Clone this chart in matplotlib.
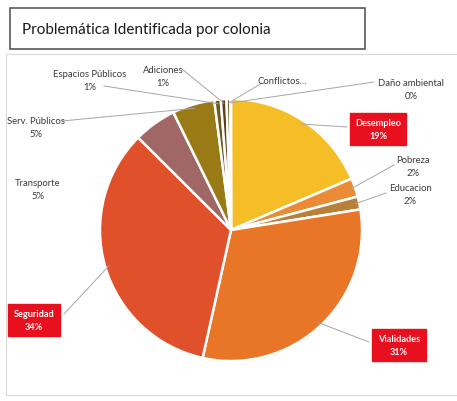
import numpy as np
import matplotlib.pyplot as plt
from matplotlib.patches import Rectangle

# data (clockwise from 12 o'clock)
categorias = ["Desempleo", "Pobreza", "Educacion", "Vialidades", "Seguridad",
              "Transporte", "Serv. Públicos", "Espacios Públicos", "Adiciones",
              "Conflictos...", "Daño ambiental"]
valores = [18.6, 2.3, 1.6, 31.0, 34.0, 5.3, 5.2, 0.8, 0.7, 0.5, 0.05]
etiquetas_pct = ["19%", "2%", "2%", "31%", "34%", "5%", "5%", "1%", "1%", "", "0%"]
colores = ["#F6BE26", "#EA8C35", "#B9803A", "#E97526", "#E0502B", "#A16666",
           "#9A7A15", "#6E5A1E", "#5C3F14", "#7A5A20", "#C0A060"]
resaltados = ["Desempleo", "Vialidades", "Seguridad"]

# label text centre and leader start (image pixel coords, y down)
pos_texto = {
    "Desempleo": (378, 130), "Pobreza": (413, 167), "Educacion": (410, 195),
    "Vialidades": (399, 346), "Seguridad": (34, 321), "Transporte": (38, 190),
    "Serv. Públicos": (36, 128), "Espacios Públicos": (90, 81),
    "Adiciones": (163, 77), "Conflictos...": (282, 81), "Daño ambiental": (411, 90),
}
inicio_linea = {
    "Desempleo": (347, 128), "Pobreza": (394, 166), "Educacion": (386, 194),
    "Vialidades": (369, 343), "Seguridad": (64, 315), "Serv. Públicos": (62, 122),
    "Espacios Públicos": (104, 87), "Adiciones": (182, 70), "Conflictos...": (262, 84),
    "Daño ambiental": (374, 83),
}

W, H = 457, 402
fig = plt.figure(figsize=(W / 100, H / 100), dpi=100)
ax = fig.add_axes([0, 0, 1, 1])

# chart frame and title box
ax.add_patch(Rectangle((6, 55), 460, 341, fill=False, edgecolor="#D9D9D9", lw=0.8))
ax.add_patch(Rectangle((10, 9), 355, 41, facecolor="white", edgecolor="#595959", lw=1.2))
ax.text(22, 30, "Problemática Identificada por colonia", fontsize=11,
        family="Lato", va="center", ha="left", color="#1A1A1A")

cx, cy, r = 231, 231, 131
# y axis is flipped, so counterclock in data = clockwise on screen, start at top
wedges, _ = ax.pie(valores, colors=colores, startangle=-90, counterclock=True,
                   center=(cx, cy), radius=r, frame=True,
                   wedgeprops=dict(edgecolor="white", linewidth=1.8))
ax.set_xlim(0, W)
ax.set_ylim(H, 0)
ax.axis("off")

for w, nombre, pct in zip(wedges, categorias, etiquetas_pct):
    tx, ty = pos_texto[nombre]
    ang = np.deg2rad((w.theta1 + w.theta2) / 2)
    ax_x = cx + r * 0.97 * np.cos(ang)
    ax_y = cy + r * 0.97 * np.sin(ang)
    if nombre in inicio_linea:
        sx, sy = inicio_linea[nombre]
        ax.plot([sx, ax_x], [sy, ax_y], color="#A6A6A6", lw=0.7, zorder=1)
    texto = nombre if pct == "" else nombre + "\n" + pct
    if nombre in resaltados:
        ax.text(tx, ty, texto, fontsize=6.6, family="Lato", ha="center", va="center",
                color="white", fontweight="bold", linespacing=1.5, zorder=5,
                bbox=dict(boxstyle="square,pad=0.6", facecolor="#E8101F",
                          edgecolor="#E8101F"))
    else:
        ax.text(tx, ty, texto, fontsize=6.8, family="Lato", ha="center", va="center",
                color="#3A3A3A", linespacing=1.5, zorder=5)

fig.savefig("out.png", dpi=100)
